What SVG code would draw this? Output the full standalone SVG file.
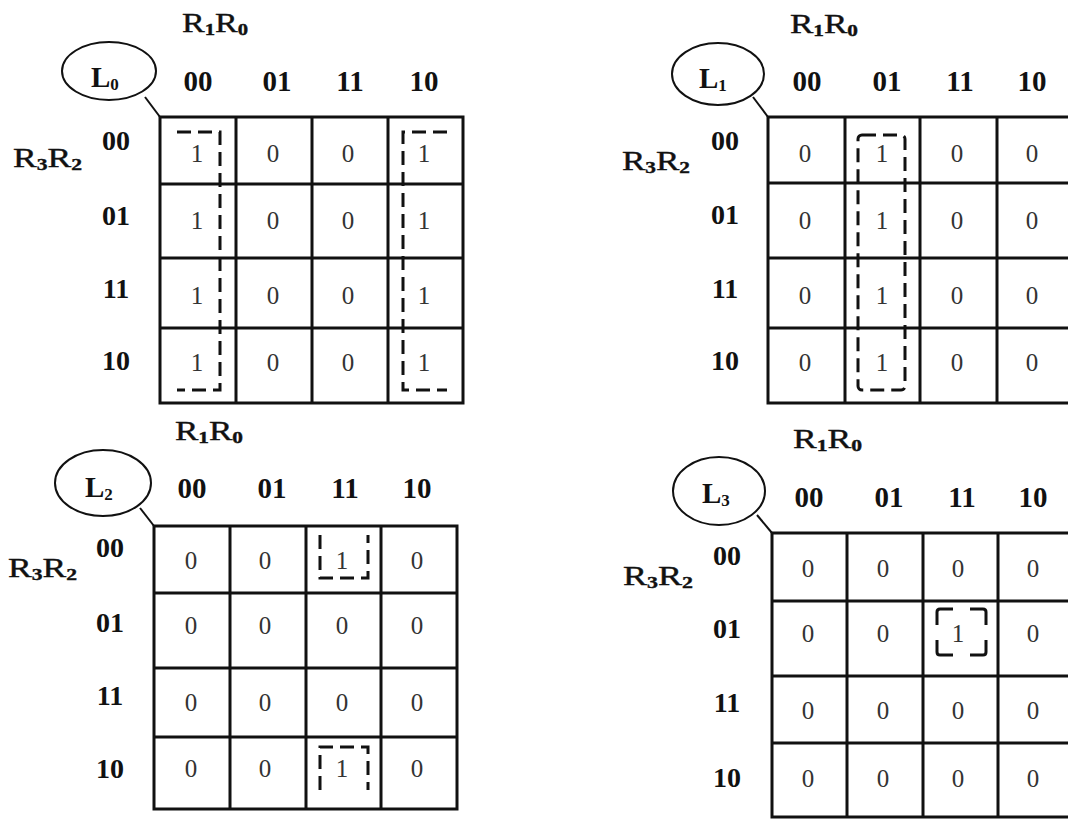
<svg xmlns="http://www.w3.org/2000/svg" width="1068" height="819" viewBox="0 0 1068 819">
<style>
.grid{fill:none;stroke:#111;stroke-width:3}
.ell{fill:#fff;stroke:#111;stroke-width:2}
.conn{stroke:#111;stroke-width:2;fill:none}
.hdr{font-family:"Liberation Serif",serif;font-weight:bold;font-size:29px;fill:#111;text-anchor:middle}
.rhdr{font-family:"Liberation Serif",serif;font-weight:bold;font-size:28px;fill:#111;text-anchor:middle}
.var{font-family:"Liberation Serif",serif;font-size:28px;fill:#111;stroke:#111;stroke-width:0.4}
.lbl{font-family:"Liberation Serif",serif;font-size:29px;font-weight:bold;fill:#111}
.sub{font-size:17px;font-weight:bold}
.val{font-family:"Liberation Serif",serif;font-size:25px;fill:#333;text-anchor:middle}
.grp{fill:none;stroke:#111;stroke-width:3;stroke-dasharray:14 7}
.brk{fill:none;stroke:#111;stroke-width:3;stroke-linejoin:round}
</style>
<rect width="1068" height="819" fill="#fff"/>

<g id="connectors">
<line class="conn" x1="145" y1="97" x2="160" y2="117"/>
<line class="conn" x1="753" y1="97" x2="768" y2="117"/>
<line class="conn" x1="140" y1="508" x2="154" y2="526"/>
<line class="conn" x1="757" y1="515" x2="772" y2="533"/>
</g>

<g id="map-L0">
<ellipse class="ell" cx="109" cy="71" rx="47" ry="29"/>
<text class="lbl" x="91" y="87">L<tspan class="sub" dy="3">0</tspan></text>
<text class="var" x="182" y="32" textLength="66" lengthAdjust="spacingAndGlyphs">R<tspan class="sub" dy="3">1</tspan><tspan dy="-3">R</tspan><tspan class="sub" dy="3">0</tspan></text>
<text class="var" x="13" y="167" textLength="69" lengthAdjust="spacingAndGlyphs">R<tspan class="sub" dy="3">3</tspan><tspan dy="-3">R</tspan><tspan class="sub" dy="3">2</tspan></text>
<text class="hdr" x="198" y="91">00</text><text class="hdr" x="277" y="91">01</text><text class="hdr" x="350" y="91">11</text><text class="hdr" x="424" y="91">10</text>
<text class="rhdr" x="116" y="150">00</text><text class="rhdr" x="116" y="225">01</text><text class="rhdr" x="116" y="298">11</text><text class="rhdr" x="116" y="370">10</text>
<rect class="grid" x="160" y="117" width="303" height="286"/>
<path class="grid" d="M236,117V403M312,117V403M388,117V403M160,184H463M160,258H463M160,328H463"/>
<g>
<text class="val" x="197" y="162">1</text><text class="val" x="273" y="162">0</text><text class="val" x="348" y="162">0</text><text class="val" x="424" y="162">1</text>
<text class="val" x="197" y="229">1</text><text class="val" x="273" y="229">0</text><text class="val" x="348" y="229">0</text><text class="val" x="424" y="229">1</text>
<text class="val" x="197" y="304">1</text><text class="val" x="273" y="304">0</text><text class="val" x="348" y="304">0</text><text class="val" x="424" y="304">1</text>
<text class="val" x="197" y="371">1</text><text class="val" x="273" y="371">0</text><text class="val" x="348" y="371">0</text><text class="val" x="424" y="371">1</text>
</g>
<path class="grp" d="M177,132H220V390H177"/>
<path class="grp" d="M447,132H403V390H447"/>
</g>

<g id="map-L1">
<ellipse class="ell" cx="718" cy="74" rx="46" ry="31"/>
<text class="lbl" x="699" y="88">L<tspan class="sub" dy="3">1</tspan></text>
<text class="var" x="790" y="33" textLength="68" lengthAdjust="spacingAndGlyphs">R<tspan class="sub" dy="3">1</tspan><tspan dy="-3">R</tspan><tspan class="sub" dy="3">0</tspan></text>
<text class="var" x="622" y="170" textLength="68" lengthAdjust="spacingAndGlyphs">R<tspan class="sub" dy="3">3</tspan><tspan dy="-3">R</tspan><tspan class="sub" dy="3">2</tspan></text>
<text class="hdr" x="807" y="91">00</text><text class="hdr" x="887" y="91">01</text><text class="hdr" x="960" y="91">11</text><text class="hdr" x="1032" y="91">10</text>
<text class="rhdr" x="725" y="150">00</text><text class="rhdr" x="725" y="224">01</text><text class="rhdr" x="725" y="298">11</text><text class="rhdr" x="725" y="370">10</text>
<rect class="grid" x="768" y="117" width="304" height="286"/>
<path class="grid" d="M845,117V403M920,117V403M997,117V403M768,183H1072M768,258H1072M768,328H1072"/>
<g>
<text class="val" x="805" y="162">0</text><text class="val" x="882" y="162">1</text><text class="val" x="957" y="162">0</text><text class="val" x="1032" y="162">0</text>
<text class="val" x="805" y="229">0</text><text class="val" x="882" y="229">1</text><text class="val" x="957" y="229">0</text><text class="val" x="1032" y="229">0</text>
<text class="val" x="805" y="304">0</text><text class="val" x="882" y="304">1</text><text class="val" x="957" y="304">0</text><text class="val" x="1032" y="304">0</text>
<text class="val" x="805" y="371">0</text><text class="val" x="882" y="371">1</text><text class="val" x="957" y="371">0</text><text class="val" x="1032" y="371">0</text>
</g>
<rect class="grp" x="858" y="135" width="47" height="255" rx="4"/>
</g>

<g id="map-L2">
<ellipse class="ell" cx="103" cy="483" rx="48" ry="33"/>
<text class="lbl" x="85" y="497">L<tspan class="sub" dy="3">2</tspan></text>
<text class="var" x="175" y="440" textLength="68" lengthAdjust="spacingAndGlyphs">R<tspan class="sub" dy="3">1</tspan><tspan dy="-3">R</tspan><tspan class="sub" dy="3">0</tspan></text>
<text class="var" x="8" y="577" textLength="69" lengthAdjust="spacingAndGlyphs">R<tspan class="sub" dy="3">3</tspan><tspan dy="-3">R</tspan><tspan class="sub" dy="3">2</tspan></text>
<text class="hdr" x="192" y="498">00</text><text class="hdr" x="272" y="498">01</text><text class="hdr" x="345" y="498">11</text><text class="hdr" x="417" y="498">10</text>
<text class="rhdr" x="110" y="557">00</text><text class="rhdr" x="110" y="632">01</text><text class="rhdr" x="110" y="705">11</text><text class="rhdr" x="110" y="778">10</text>
<rect class="grid" x="154" y="526" width="303" height="283"/>
<path class="grid" d="M230,526V809M306,526V809M381,526V809M154,593H457M154,668H457M154,737H457"/>
<g>
<text class="val" x="191" y="569">0</text><text class="val" x="265" y="569">0</text><text class="val" x="342" y="569">1</text><text class="val" x="417" y="569">0</text>
<text class="val" x="191" y="634">0</text><text class="val" x="265" y="634">0</text><text class="val" x="342" y="634">0</text><text class="val" x="417" y="634">0</text>
<text class="val" x="191" y="711">0</text><text class="val" x="265" y="711">0</text><text class="val" x="342" y="711">0</text><text class="val" x="417" y="711">0</text>
<text class="val" x="191" y="777">0</text><text class="val" x="265" y="777">0</text><text class="val" x="342" y="777">1</text><text class="val" x="417" y="777">0</text>
</g>
<path class="grp" d="M320,535V578H368V535"/>
<path class="grp" d="M320,790V747H368V790"/>
</g>

<g id="map-L3">
<ellipse class="ell" cx="719" cy="491" rx="46" ry="34"/>
<text class="lbl" x="702" y="503">L<tspan class="sub" dy="3">3</tspan></text>
<text class="var" x="793" y="448" textLength="69" lengthAdjust="spacingAndGlyphs">R<tspan class="sub" dy="3">1</tspan><tspan dy="-3">R</tspan><tspan class="sub" dy="3">0</tspan></text>
<text class="var" x="623" y="585" textLength="70" lengthAdjust="spacingAndGlyphs">R<tspan class="sub" dy="3">3</tspan><tspan dy="-3">R</tspan><tspan class="sub" dy="3">2</tspan></text>
<text class="hdr" x="809" y="507">00</text><text class="hdr" x="889" y="507">01</text><text class="hdr" x="962" y="507">11</text><text class="hdr" x="1033" y="507">10</text>
<text class="rhdr" x="727" y="565">00</text><text class="rhdr" x="727" y="638">01</text><text class="rhdr" x="727" y="712">11</text><text class="rhdr" x="727" y="787">10</text>
<rect class="grid" x="772" y="533" width="302" height="284"/>
<path class="grid" d="M847,533V817M923,533V817M998,533V817M772,601H1074M772,676H1074M772,743H1074"/>
<g>
<text class="val" x="808" y="577">0</text><text class="val" x="883" y="577">0</text><text class="val" x="958" y="577">0</text><text class="val" x="1033" y="577">0</text>
<text class="val" x="808" y="642">0</text><text class="val" x="883" y="642">0</text><text class="val" x="958" y="642">1</text><text class="val" x="1033" y="642">0</text>
<text class="val" x="808" y="719">0</text><text class="val" x="883" y="719">0</text><text class="val" x="958" y="719">0</text><text class="val" x="1033" y="719">0</text>
<text class="val" x="808" y="787">0</text><text class="val" x="883" y="787">0</text><text class="val" x="958" y="787">0</text><text class="val" x="1033" y="787">0</text>
</g>
<path class="brk" d="M937,625V612Q937,609 940,609H953"/>
<path class="brk" d="M970,609H983Q986,609 986,612V625"/>
<path class="brk" d="M937,640V652Q937,655 940,655H953"/>
<path class="brk" d="M970,655H983Q986,655 986,652V640"/>
</g>
</svg>
